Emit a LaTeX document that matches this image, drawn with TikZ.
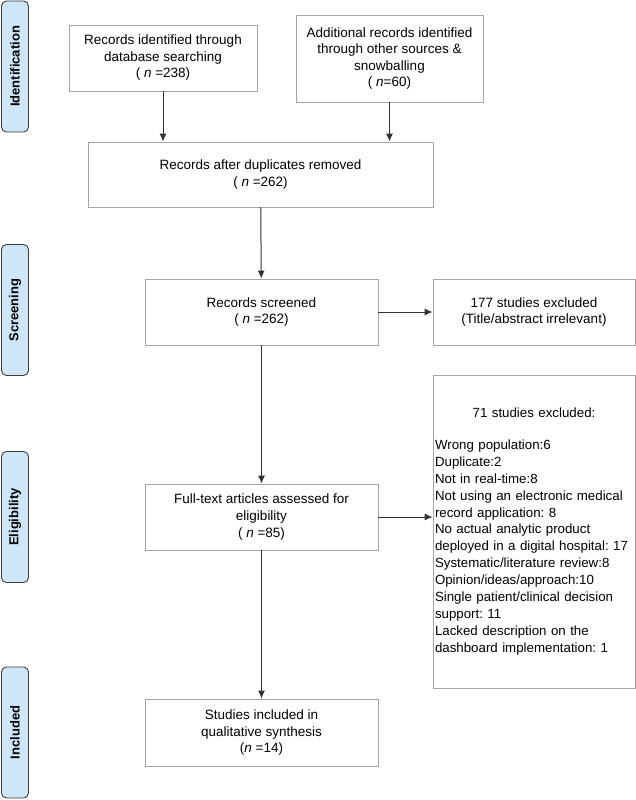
\documentclass[tikz,border=0pt]{standalone}
\usepackage{fontspec}
\setmainfont{Liberation Sans}
\usepackage{xcolor}
\usepackage{tikz}
\usetikzlibrary{arrows.meta}

\definecolor{boxline}{RGB}{165,165,165}
\definecolor{arrowline}{RGB}{50,50,50}
\definecolor{stagefill}{RGB}{206,230,248}
\definecolor{stageline}{RGB}{60,60,60}

\frenchspacing

\begin{document}
\begin{tikzpicture}[x=1pt, y=-1pt,
				every node/.style={font=\fontsize{13.5}{16.5}\selectfont},
				box/.style={draw=boxline, line width=0.9pt, fill=white, align=center, inner sep=2pt},
				stage/.style={draw=stageline, fill=stagefill, line width=0.9pt, rounded corners=5pt, rotate=90, minimum width=131pt, minimum height=27pt, inner sep=0pt, font=\fontsize{13}{16}\selectfont\bfseries},
				flow/.style={draw=arrowline, line width=1pt, -{Latex[length=8pt,width=7pt]}}]
				
				\useasboundingbox (0,0) rectangle (636,800);
				
				%Stages
				\node[stage] (stIdent) at (15,66.5) {Identification};
				\node[stage] (stScreen) at (15,310) {Screening};
				\node[stage] (stElig) at (15,517) {Eligibility};
				\node[stage] (stIncl) at (15,732.5) {Included};
				
				%Level 1
				\node[box, minimum width=188, minimum height=66] (db) at (163,58) {Records identified through\\database searching\\( \textit{n} =238)};
				\node[box, minimum width=187, minimum height=87] (other) at (389.5,58.5) {Additional records identified\\through other sources \&\\snowballing\\( \textit{n}=60)};
				
				%Level 2
				\node[box, minimum width=345, minimum height=65] (dup) at (260.5,174.5) {Records after duplicates removed\\( \textit{n} =262)};
				
				%Level 3
				\node[box, minimum width=233, minimum height=66] (screen) at (261.5,312) {Records screened\\( \textit{n} =262)};
				\node[box, minimum width=202, minimum height=66] (excl1) at (534,312) {177 studies excluded\\(Title/abstract irrelevant)};
				
				%Level 4
				\node[box, minimum width=233, minimum height=66] (full) at (261.5,517) {Full-text articles assessed for\\eligibility\\( \textit{n} =85)};
				\node[box, minimum width=202, minimum height=313, text width=198, align=left, inner sep=1pt, font=\fontsize{13.3}{16.9}\selectfont] (excl2) at (534,531.5) {\hfill 71 studies excluded:\hfill\null\\[15pt]Wrong population:6\\Duplicate:2\\Not in real-time:8\\Not using an electronic medical\\record application: 8\\No actual analytic product\\deployed in a digital hospital: 17\\Systematic/literature review:8\\Opinion/ideas/approach:10\\Single patient/clinical decision\\support: 11\\Lacked description on the\\dashboard implementation: 1};
				
				%Level 5
				\node[box, minimum width=233, minimum height=67] (studies) at (261.5,732.5) {Studies included in\\qualitative synthesis\\(\textit{n} =14)};
				
				%Lines
				\draw[flow] (db) -- (db |- dup.north);
				\draw[flow] (other) -- (other |- dup.north);
				\draw[flow] (dup) -- (screen);
				\draw[flow] (screen) -- (excl1);
				\draw[flow] (screen) -- (full);
				\draw[flow] (full) -- (full -| excl2.west);
				\draw[flow] (full) -- (studies);
			\end{tikzpicture}
\end{document}
